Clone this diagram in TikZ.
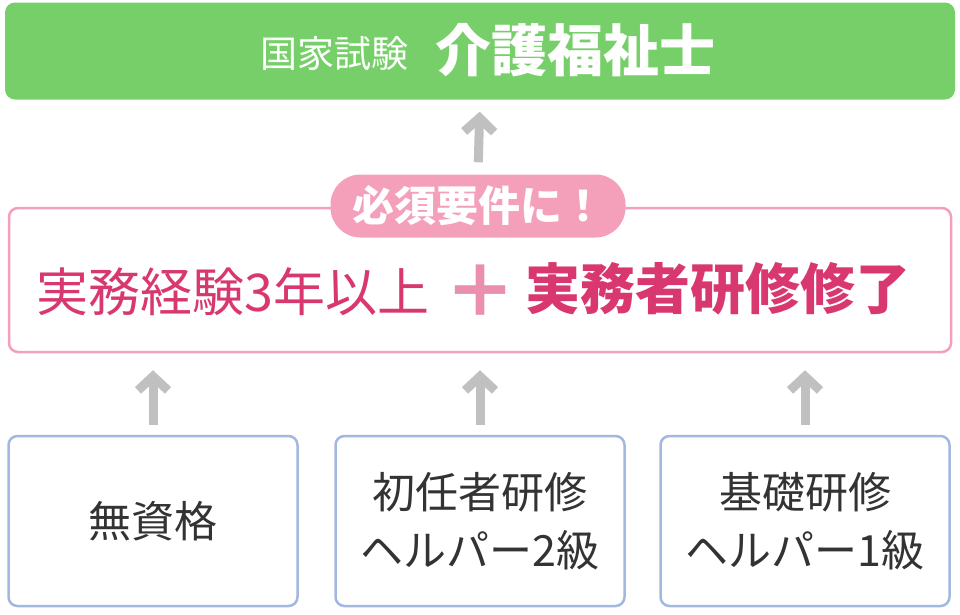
\documentclass[tikz,border=0pt]{standalone}
\usepackage{fontspec}
\setmainfont{Noto Sans CJK JP}
\usetikzlibrary{arrows.meta}
\definecolor{titlegreen}{HTML}{77CF69}
\definecolor{reqpink}{HTML}{F4A0BB}
\definecolor{reqtext}{HTML}{D8386F}
\definecolor{plusPink}{HTML}{EA8FAD}
\definecolor{boxblue}{HTML}{A3B8DE}
\definecolor{arrowgray}{HTML}{C0C0C0}
\definecolor{textgray}{HTML}{333333}
\tikzset{
  upArrow/.style={draw=arrowgray,line width=9pt,-{Straight Barb[length=14pt,width=30pt,line width=9pt]}},
  startBox/.style={draw=boxblue,line width=2.5pt,rounded corners=9pt,fill=white,minimum width=289pt,minimum height=170pt,align=center,text=textgray,font=\fontsize{43}{58}\selectfont}
}
\begin{document}
\begin{tikzpicture}[x=1pt,y=-1pt]
    \useasboundingbox (0,0) rectangle (960,614);

    % Goal
    \node (goal) [fill=titlegreen,rounded corners=10pt,minimum width=950pt,minimum height=97pt] at (480,51) {};
    \node (goal_small) [text=white,font=\fontsize{37}{40}\selectfont,anchor=east] at (412,53) {国家試験};
    \node (goal_big) [text=white,font=\bfseries\fontsize{56}{60}\selectfont,anchor=west] at (432,50) {介護福祉士};

    % Requirement
    \node (req) [draw=reqpink,line width=2.5pt,rounded corners=9pt,fill=white,minimum width=942pt,minimum height=144pt] at (480,280) {};
    \node (req_label) [fill=reqpink,rounded corners=30pt,minimum width=295pt,minimum height=63pt,text=white,font=\bfseries\fontsize{42}{46}\selectfont] at (478,206) {必須要件に！};
    \node (exp) [text=reqtext,font=\fontsize{52}{56}\selectfont,anchor=east] at (433,292) {実務経験3年以上};
    \node (plus) [text=plusPink,font=\bfseries\fontsize{72}{72}\selectfont] at (480,291) {＋};
    \node (training) [text=reqtext,font=\bfseries\fontsize{55}{60}\selectfont,anchor=west] at (522,289) {実務者研修修了};

    % Starting points
    \node (none) [startBox] at (153,521) {無資格};
    \node (helper2) [startBox] at (480,521) {初任者研修\\ヘルパー2級};
    \node (helper1) [startBox] at (805,521) {基礎研修\\ヘルパー1級};

    \draw[upArrow,shorten <=12pt,shorten >=12pt] (req_label.north) -- (goal.south);
    \draw[upArrow,shorten <=10pt,shorten >=17pt] (none.north) -- (none.north |- req.south);
    \draw[upArrow,shorten <=10pt,shorten >=17pt] (helper2.north) -- (helper2.north |- req.south);
    \draw[upArrow,shorten <=10pt,shorten >=17pt] (helper1.north) -- (helper1.north |- req.south);
\end{tikzpicture}
\end{document}
